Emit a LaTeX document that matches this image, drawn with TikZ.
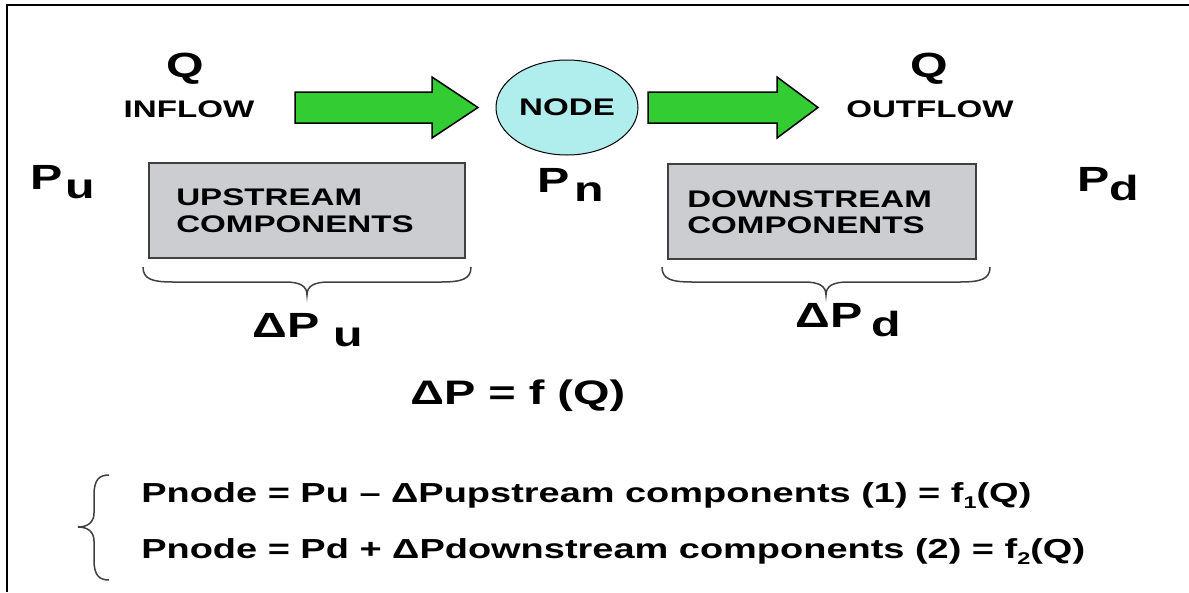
\documentclass[tikz,border=0pt]{standalone}
\usepackage{fontspec}
\setmainfont{Liberation Sans}
\usetikzlibrary{shapes.geometric}

\definecolor{flowgreen}{RGB}{51,204,51}
\definecolor{nodecyan}{RGB}{175,238,236}
\definecolor{boxgrey}{RGB}{204,205,209}
\definecolor{edgegrey}{RGB}{64,64,64}

% lowered subscripts as on the slide
\newcommand{\lowsub}[1]{\raisebox{-0.28em}{#1}}
\newcommand{\smallsub}[1]{\raisebox{-0.22em}{\fontsize{17}{17}\selectfont #1}}

\tikzset{
  lbl/.style={inner sep=0pt, xscale=1.38, font=\fontsize{24}{27}\selectfont\bfseries},
  big/.style={inner sep=0pt, xscale=1.38, font=\fontsize{35}{40}\selectfont\bfseries},
  eqn/.style={inner sep=0pt, xscale=1.38, font=\fontsize{27.5}{30}\selectfont\bfseries},
  flow/.style={draw=black, line width=1.5pt, fill=flowgreen},
  comp/.style={draw=edgegrey, line width=2pt, fill=boxgrey, inner sep=0pt, minimum height=95pt},
  curly/.style={draw=edgegrey, line width=1.5pt},
}

\begin{document}
\begin{tikzpicture}[x=1pt, y=-1pt]
\useasboundingbox (0,0) rectangle (1189,592);

% frame
\draw [line width=2pt] (7,592) -- (7,5) -- (1189,5);

% flow in, node, flow out
\node [big, anchor=base] (qin) at (185,77) {Q};
\node [lbl, anchor=base] (inflow) at (189,117) {INFLOW};
\draw [flow] (295,92) -- (432,92) -- (432,77) -- (478,107.5) -- (432,138) -- (432,123) -- (295,123) -- cycle;

\node [ellipse, draw=black, line width=1pt, fill=nodecyan, minimum width=142pt, minimum height=95pt] (junction) at (567,107.5) {};
\node [lbl] (nodetext) at (junction.center) {NODE};

\draw [flow] (648,92) -- (777,92) -- (777,77) -- (818,107.5) -- (777,138) -- (777,123) -- (648,123) -- cycle;
\node [big, anchor=base] (qout) at (929,77) {Q};
\node [lbl, anchor=base] (outflow) at (930,117) {OUTFLOW};

% pressures
\node [big, anchor=base west] (pu) at (30,189) {P\kern0.06em\lowsub{u}};
\node [big, anchor=base west] (pn) at (537,192) {P\kern0.1em\lowsub{n}};
\node [big, anchor=base west] (pd) at (1077,191) {P\lowsub{d}};

% components
\node [comp, minimum width=316pt] (upbox) at (307,210.5) {};
\node [lbl, anchor=base west] (up1) at (176,205) {UPSTREAM};
\node [lbl, anchor=base west] (up2) at (176,232) {COMPONENTS};

\node [comp, minimum width=308pt] (downbox) at (822,211.5) {};
\node [lbl, anchor=base west] (down1) at (687,207) {DOWNSTREAM};
\node [lbl, anchor=base west] (down2) at (687,233) {COMPONENTS};

% braces under the boxes
\draw [curly] (143,267) .. controls (143,279) and (152,282) .. (173,282) -- (285,282)
  .. controls (300,282) and (307,286) .. (307,295) .. controls (307,286) and (314,282) .. (329,282)
  -- (441,282) .. controls (462,282) and (471,279) .. (471,267);
\draw [curly] (662,267) .. controls (662,279) and (671,282) .. (692,282) -- (804,282)
  .. controls (819,282) and (826,286) .. (826,295) .. controls (826,286) and (833,282) .. (848,282)
  -- (960,282) .. controls (981,282) and (990,279) .. (990,267);

\node [big, anchor=base west] (dpu) at (252,337) {ΔP\kern0.3em\lowsub{u}};
\node [big, anchor=base west] (dpd) at (795,327) {ΔP\kern0.2em\lowsub{d}};

\node [big, anchor=base west, font=\fontsize{34}{40}\selectfont\bfseries] (dpf) at (410,404) {ΔP = f (Q)};

% node pressure from both sides
\draw [curly] (109,475) .. controls (99,475) and (94,480) .. (94,495) -- (94,513)
  .. controls (94,522) and (88,527) .. (78,527) .. controls (88,527) and (94,532) .. (94,541)
  -- (94,560) .. controls (94,575) and (99,580) .. (109,580);
\node [eqn, anchor=base west] (eqone) at (141,502) {Pnode = Pu – ΔPupstream components (1) = f\smallsub{1}(Q)};
\node [eqn, anchor=base west] (eqtwo) at (141,558) {Pnode = Pd + ΔPdownstream components (2) = f\smallsub{2}(Q)};

\end{tikzpicture}
\end{document}
